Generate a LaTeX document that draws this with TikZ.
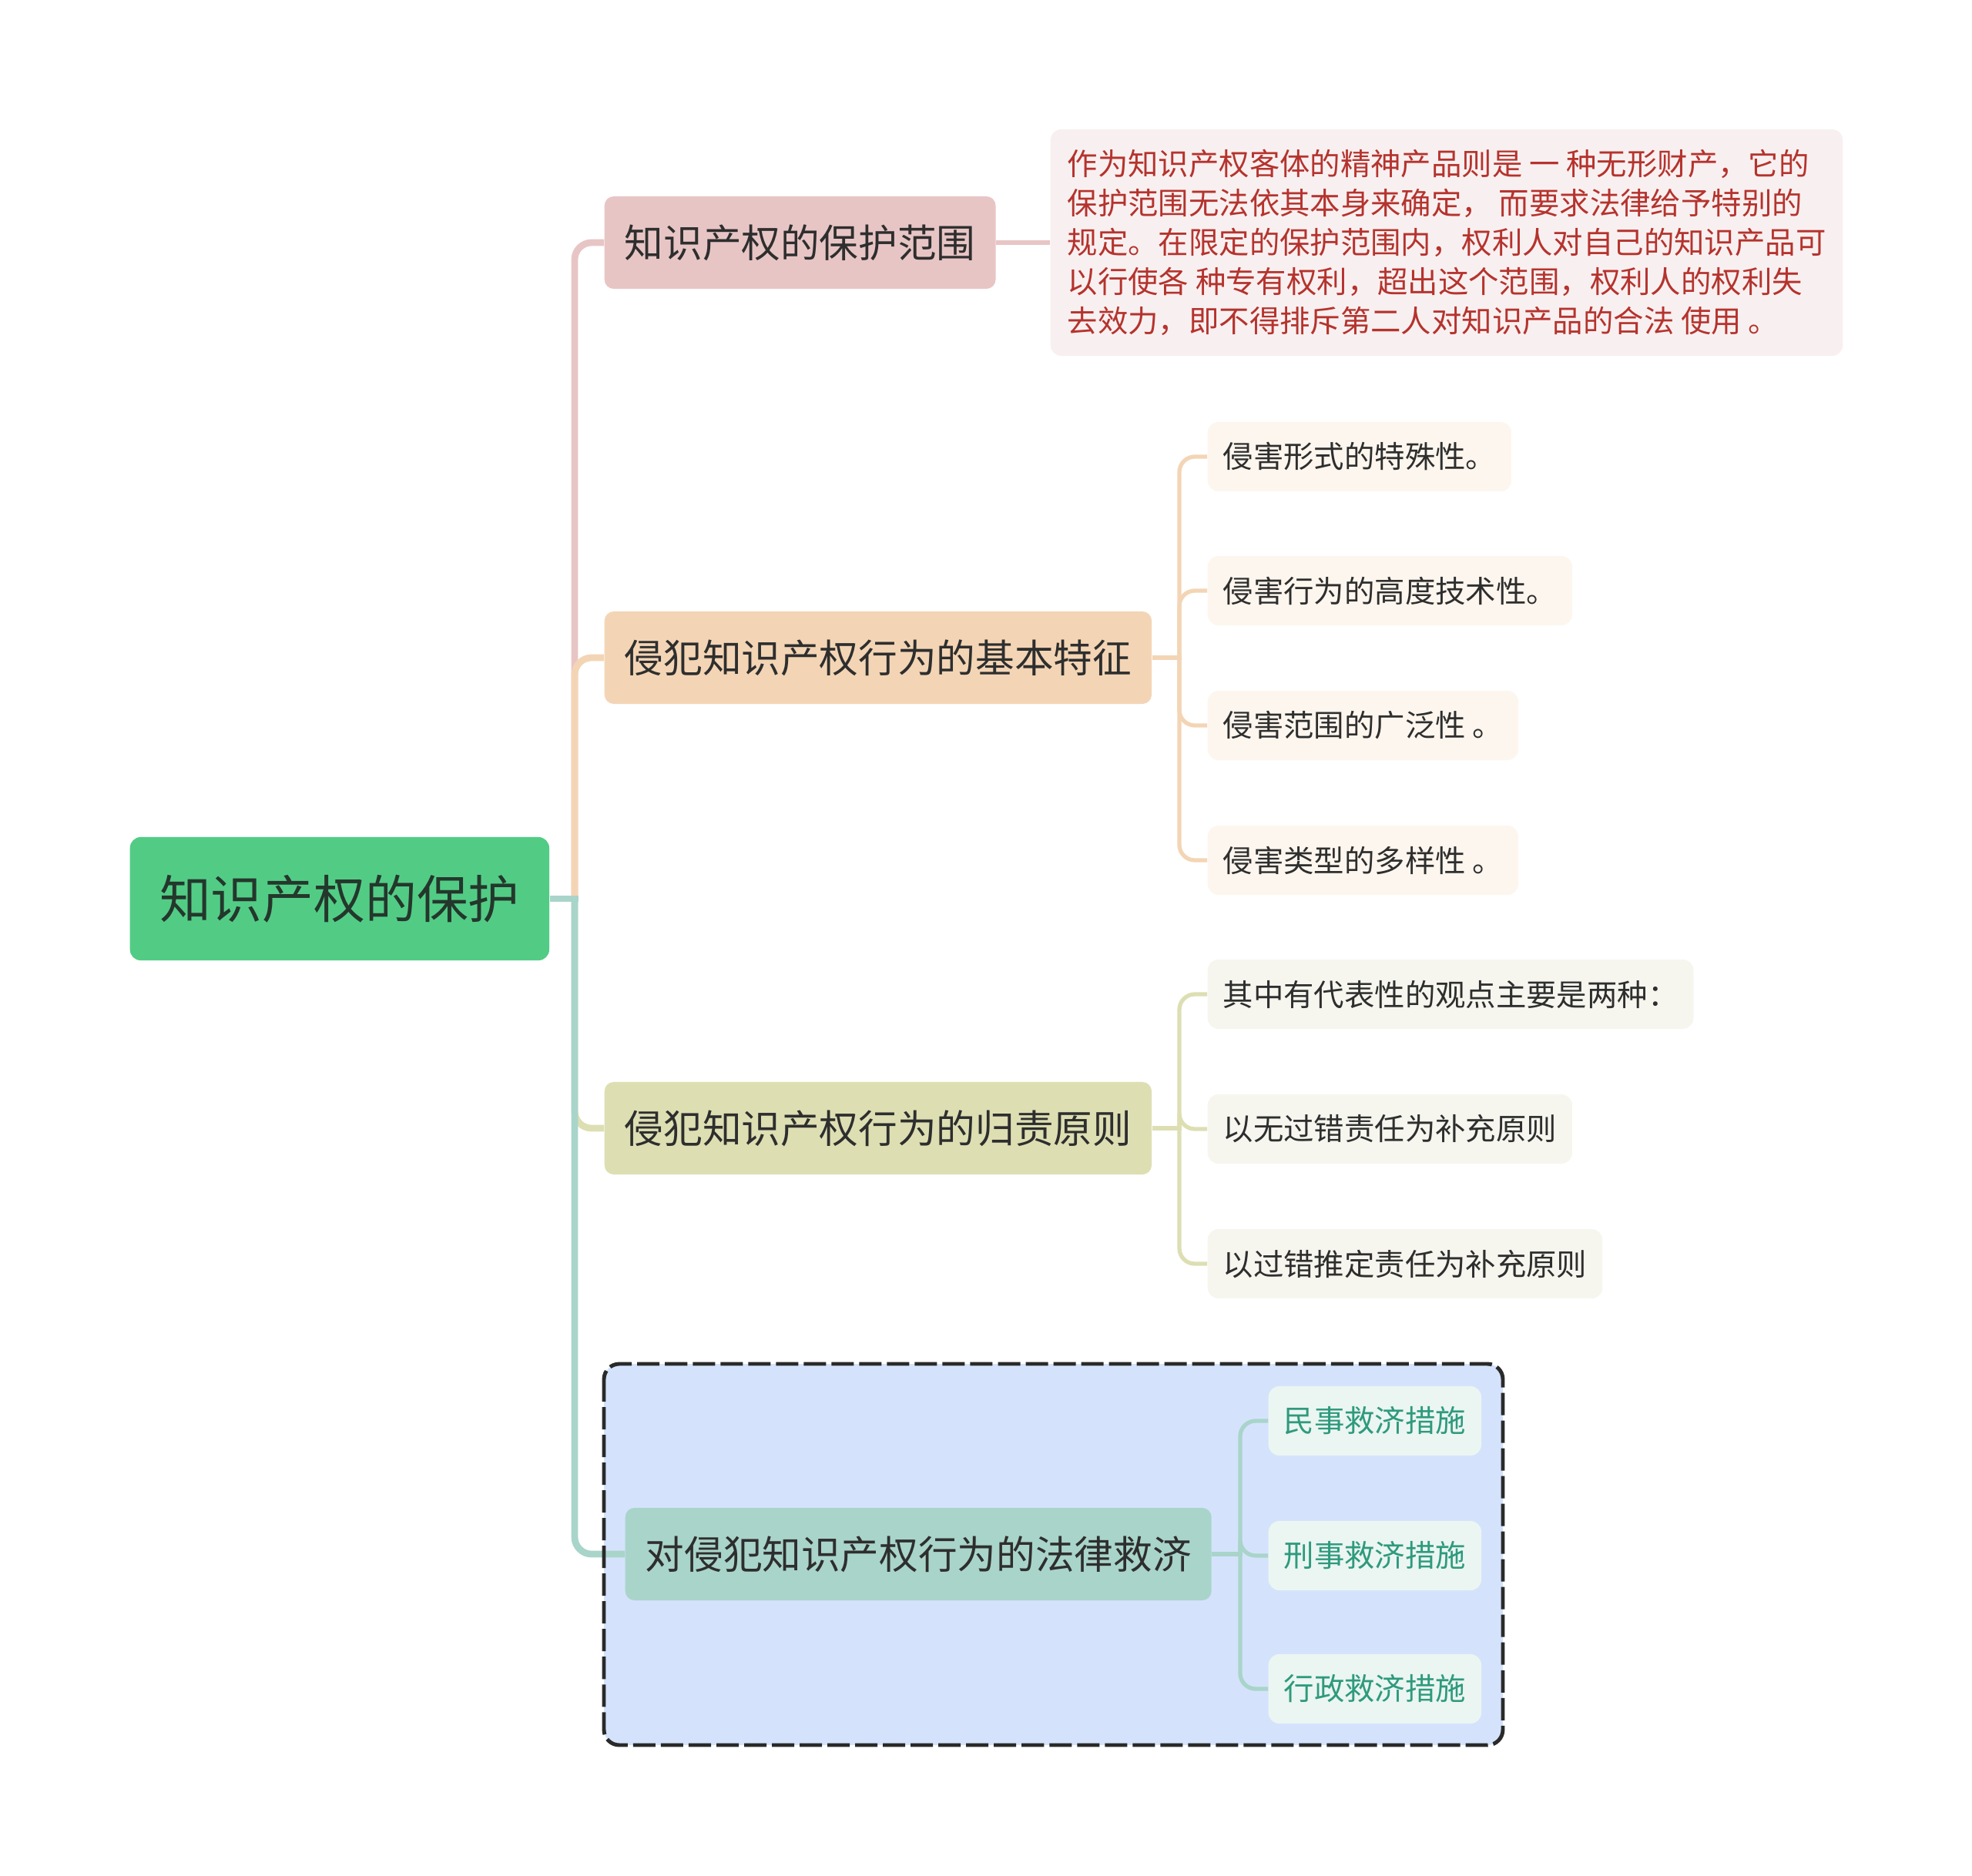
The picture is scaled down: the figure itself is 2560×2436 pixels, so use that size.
\documentclass[tikz,border=0pt]{standalone}
\usepackage{fontspec}
\setmainfont{Noto Sans CJK SC}
\definecolor{rootgreen}{HTML}{52CC85}
\definecolor{rootink}{HTML}{24372C}
\definecolor{inkdark}{HTML}{2E2E2E}
\definecolor{pinkfill}{HTML}{E8C5C5}
\definecolor{orangefill}{HTML}{F3D5B5}
\definecolor{olivefill}{HTML}{DDDFB3}
\definecolor{tealfill}{HTML}{A9D4CA}
\definecolor{notefill}{HTML}{F8F0F0}
\definecolor{notered}{HTML}{B5332E}
\definecolor{orangeleaf}{HTML}{FDF6EE}
\definecolor{oliveleaf}{HTML}{F6F6EF}
\definecolor{tealleaf}{HTML}{EBF5F2}
\definecolor{tealtext}{HTML}{2E9A7C}
\definecolor{boxblue}{HTML}{D4E3FB}
\definecolor{boxline}{HTML}{2A2A2A}

\begin{document}
\begin{tikzpicture}[x=0.01cm, y=-0.01cm,
    root/.style={fill=rootgreen, text=rootink, rounded corners=0.14cm, anchor=west,
      minimum width=5.44cm, minimum height=1.6cm, font=\fontsize{19}{23}\selectfont},
    topic/.style={text=inkdark, rounded corners=0.12cm, anchor=west, inner xsep=0.26cm,
      minimum height=1.2cm, font=\fontsize{14.4}{17}\selectfont},
    leaf/.style={text=inkdark, rounded corners=0.14cm, anchor=west, inner xsep=0.2cm,
      minimum height=0.9cm, font=\fontsize{11.2}{14.5}\selectfont},
    memo/.style={fill=notefill, text=notered, rounded corners=0.14cm, anchor=west,
      inner xsep=0.22cm, minimum height=2.94cm, align=left, font=\fontsize{11.2}{14.5}\selectfont},
    trunk/.style={line width=2.5pt, rounded corners=0.22cm},
    twig/.style={line width=1.5pt, rounded corners=0.2cm},
    groupline/.style={draw=boxline, line width=1.4pt, dash pattern=on 0.29cm off 0.07cm, rounded corners=0.2cm}]
    \useasboundingbox (0,0) rectangle (2560,2436);
    % root
    \node[root] (root) at (168,1167) {知识产权的保护};
    \coordinate (junc) at (746,1167);
    % scope of protection
    \node[topic, fill=pinkfill] (scope) at (784,315) {知识产权的保护范围};
    \node[memo] (memo) at (1363,315) {作为知识产权客体的精神产品则是 一 种无形财产，它的\\
      保护范围无法依其本身来确定， 而要求法律给予特别的\\
      规定。在限定的保护范围内，权利人对自己的知识产品可\\
      以行使各 种专有权利，超出这个范围，权利人的权利失\\
      去效力，即不得排斥第二人对知识产品的合法 使用 。};
    % basic traits
    \node[topic, fill=orangefill] (traits) at (784,854) {侵犯知识产权行为的基本特征};
    \node[leaf, fill=orangeleaf] (t1) at (1567,593) {侵害形式的特殊性。};
    \node[leaf, fill=orangeleaf] (t2) at (1567,767) {侵害行为的高度技术性。};
    \node[leaf, fill=orangeleaf] (t3) at (1567,942) {侵害范围的广泛性 。};
    \node[leaf, fill=orangeleaf] (t4) at (1567,1117) {侵害类型的多样性 。};
    % liability principles
    \node[topic, fill=olivefill] (liab) at (784,1465) {侵犯知识产权行为的归责原则};
    \node[leaf, fill=oliveleaf] (p1) at (1567,1291) {其中有代表性的观点主要是两种：};
    \node[leaf, fill=oliveleaf] (p2) at (1567,1466) {以无过错责任为补充原则};
    \node[leaf, fill=oliveleaf] (p3) at (1567,1641) {以过错推定责任为补充原则};
    % legal remedies (boxed)
    \fill[boxblue, rounded corners=0.2cm] (784,1771) rectangle (1951,2266);
    \node[topic, fill=tealfill] (remedy) at (811,2018) {对侵犯知识产权行为的法律救济};
    \node[leaf, fill=tealleaf, text=tealtext] (r1) at (1646,1845) {民事救济措施};
    \node[leaf, fill=tealleaf, text=tealtext] (r2) at (1646,2020) {刑事救济措施};
    \node[leaf, fill=tealleaf, text=tealtext] (r3) at (1646,2193) {行政救济措施};
    % main branches
    \draw[trunk, pinkfill] (junc) |- (scope.west);
    \draw[trunk, orangefill] (junc) |- (traits.west);
    \draw[trunk, olivefill] (junc) |- (liab.west);
    \draw[trunk, tealfill] (junc) |- (remedy.west);
    \draw[trunk, tealfill] (root.east) -- ([xshift=1.3pt]junc);
    % sub branches
    \draw[twig, pinkfill] (scope.east) -- (memo.west);
    \coordinate (tj) at (1531,854);
    \draw[twig, orangefill] (traits.east) -- ([xshift=0.8pt]tj);
    \foreach \n in {t1,t2,t3,t4}
      \draw[twig, orangefill] (tj) |- (\n.west);
    \coordinate (pj) at (1531,1465);
    \draw[twig, olivefill] (liab.east) -- ([xshift=0.8pt]pj);
    \foreach \n in {p1,p2,p3}
      \draw[twig, olivefill] (pj) |- (\n.west);
    \coordinate (rj) at (1610,2018);
    \draw[twig, tealfill] (remedy.east) -- ([xshift=0.8pt]rj);
    \foreach \n in {r1,r2,r3}
      \draw[twig, tealfill] (rj) |- (\n.west);
    \draw[groupline] (784,1771) rectangle (1951,2266);
\end{tikzpicture}
\end{document}
